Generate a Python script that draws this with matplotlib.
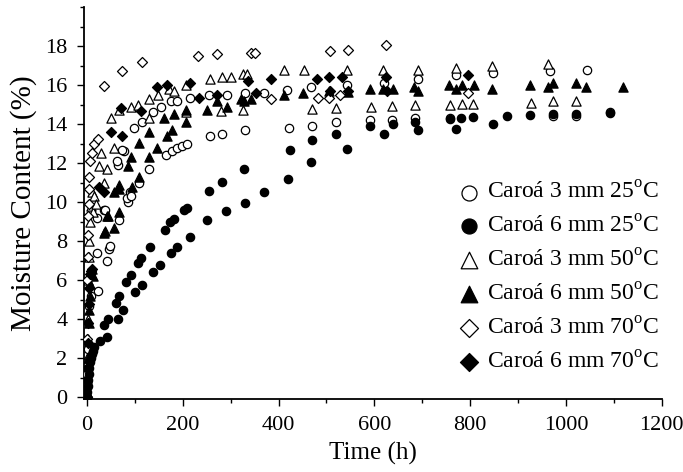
import matplotlib
matplotlib.use("Agg")
import matplotlib.pyplot as plt
from matplotlib.ticker import MultipleLocator

plt.rcParams['font.family'] = ['Liberation Serif', 'DejaVu Serif']
plt.rcParams['mathtext.fontset'] = 'custom'
plt.rcParams['mathtext.rm'] = 'Liberation Serif'

labels = ["Caroá 3 mm 25$^{\\mathrm{o}}$C", "Caroá 6 mm 25$^{\\mathrm{o}}$C",
          "Caroá 3 mm 50$^{\\mathrm{o}}$C", "Caroá 6 mm 50$^{\\mathrm{o}}$C",
          "Caroá 3 mm 70$^{\\mathrm{o}}$C", "Caroá 6 mm 70$^{\\mathrm{o}}$C"]

# Caroá 3 mm 25 C (open circles)
t_3_25 = [0, 1, 2, 3.5, 8, 24, 21, 42, 46, 49, 21, 36, 38, 67, 85, 83, 90, 92, 109, 64, 130, 62,
          78, 74, 165, 178, 189, 199, 210, 257, 283, 329, 99, 116, 137, 154, 175, 189, 215, 255,
          292, 331, 369, 418, 421, 468, 470, 519, 542, 590, 621, 637, 685, 692, 757, 771, 848,
          966, 973, 1021, 1044, 1092]
m_3_25 = [0, 1.2, 2.5, 4.7, 5.2, 5.45, 7.4, 7.0, 7.6, 7.75, 9.2, 9.6, 9.6, 9.1, 10.0, 10.2, 10.5,
          10.3, 11.0, 11.9, 11.7, 12.1, 12.6, 12.7, 12.4, 12.6, 12.8, 12.9, 13.0, 13.4, 13.5, 13.7,
          13.8, 14.1, 14.6, 14.9, 15.2, 15.2, 15.35, 15.5, 15.5, 15.6, 15.6, 15.75, 13.8, 15.9,
          13.9, 14.1, 16.0, 14.2, 16.1, 14.2, 14.3, 16.3, 14.3, 16.5, 16.6, 16.7, 14.4, 14.4,
          16.8, 14.6]

# Caroá 6 mm 25 C (filled circles)
t_6_25 = [0, 1, 2, 3, 4, 5, 6, 8, 10, 12, 15, 28, 42, 36, 44, 64, 60, 76, 67, 81, 100, 92, 114,
          106, 112, 139, 153, 132, 175, 162, 189, 174, 182, 215, 203, 210, 251, 255, 283, 290,
          328, 331, 369, 419, 423, 468, 470, 519, 542, 590, 621, 639, 685, 692, 757, 771, 780,
          806, 848, 876, 925, 973, 1021, 1092]
m_6_25 = [0, 0.3, 0.6, 0.9, 1.2, 1.5, 1.8, 2.0, 2.2, 2.4, 2.6, 2.9, 3.1, 3.7, 4.0, 4.0, 4.85, 4.5,
          5.2, 5.9, 5.4, 6.25, 5.75, 6.9, 7.15, 6.4, 6.8, 7.7, 7.4, 8.6, 7.7, 9.0, 9.15, 8.2, 9.6,
          9.7, 9.1, 10.6, 11.05, 9.55, 11.7, 9.95, 10.5, 11.2, 12.7, 12.05, 13.2, 13.5, 12.75,
          13.9, 13.5, 14.0, 14.1, 13.7, 14.25, 13.75, 14.3, 14.35, 14.0, 14.4, 14.45, 14.5, 14.5,
          14.55]

# Caroá 3 mm 50 C (open triangles)
t_3_50 = [0, 1, 2, 3, 4, 5, 6, 8, 10, 12, 15, 20, 26, 43, 36, 29, 57, 50, 67, 92, 106, 130, 149,
          171, 182, 206, 258, 283, 300, 326, 335, 130, 206, 279, 326, 411, 453, 470, 519, 542,
          592, 619, 637, 685, 692, 758, 771, 783, 805, 845, 926, 963, 973, 1021]
m_3_50 = [0, 2, 4, 6, 7.2, 8.0, 9.0, 9.8, 10.5, 9.5, 10.3, 9.9, 11.85, 11.7, 11.0, 12.5, 12.8,
          14.3, 14.75, 14.9, 15.0, 15.3, 15.5, 15.8, 15.7, 16.0, 16.3, 16.4, 16.4, 16.55, 16.55,
          14.3, 14.6, 14.7, 14.75, 16.8, 16.8, 14.8, 14.85, 16.8, 14.9, 16.8, 14.95, 15.0, 16.8,
          15.0, 16.9, 15.05, 15.05, 17.0, 15.1, 17.1, 15.2, 15.2]

# Caroá 6 mm 50 C (filled triangles)
t_6_50 = [0, 1, 2, 3, 4, 5, 6, 7, 8, 10, 12, 36, 38, 43, 45, 56, 67, 57, 66, 67, 85, 95, 109, 92,
          130, 146, 109, 130, 168, 178, 206, 161, 182, 206, 251, 272, 293, 321, 328, 342, 411,
          451, 505, 546, 590, 619, 639, 682, 692, 755, 771, 783, 807, 845, 925, 963, 973, 1021,
          1042, 1119]
m_6_50 = [0, 1.0, 2.0, 3.0, 3.8, 4.5, 5.2, 5.8, 6.3, 6.6, 6.2, 8.4, 8.5, 9.3, 9.3, 8.7, 9.5, 10.5,
          10.7, 10.9, 11.85, 10.8, 11.3, 12.3, 12.3, 12.8, 13.05, 13.6, 13.4, 13.7, 14.1, 14.3,
          14.5, 14.75, 14.75, 15.2, 14.9, 15.3, 15.2, 15.3, 15.5, 15.6, 15.7, 15.65, 15.8, 15.8,
          15.8, 15.9, 15.7, 16.0, 15.8, 16.0, 16.0, 15.8, 16.0, 15.9, 16.1, 16.1, 15.9, 15.9]

# Caroá 3 mm 70 C (open diamonds)
t_3_70 = [0, 0.5, 1, 1.5, 2, 3, 4, 5, 3.5, 7, 10, 14, 24, 36, 74, 114, 231, 271, 342, 350, 385,
          482, 505, 507, 529, 546, 624, 795]
m_3_70 = [0, 3.0, 6.0, 7.2, 8.3, 9.3, 9.9, 10.7, 11.3, 12.1, 12.5, 13.0, 13.25, 15.95, 16.7,
          17.2, 17.5, 17.6, 17.65, 17.65, 15.3, 15.35, 15.35, 17.75, 15.5, 17.8, 18.05, 15.6]

# Caroá 6 mm 70 C (filled diamonds)
t_6_70 = [0, 1, 2, 3, 4, 5, 6, 8, 10, 25, 35, 50, 74, 72, 112, 146, 168, 215, 234, 272, 336, 352,
          385, 480, 505, 507, 533, 546, 625, 626, 795]
m_6_70 = [0, 1.5, 2.8, 3.8, 4.8, 5.6, 6.3, 6.5, 6.6, 10.8, 10.5, 13.6, 13.4, 14.85, 14.65, 15.9,
          16.0, 16.1, 15.35, 15.5, 16.2, 15.6, 16.3, 16.3, 16.4, 15.7, 16.4, 15.7, 16.4, 15.7,
          16.5]

x_ticks = [0, 200, 400, 600, 800, 1000, 1200]
y_ticks = [0, 2, 4, 6, 8, 10, 12, 14, 16, 18]

fig = plt.figure(figsize=(6.83, 4.72), dpi=100)
ax = fig.add_axes([0.123, 0.154, 0.846, 0.831])

series = [
    (t_3_25, m_3_25, 'o', 'white', 36),
    (t_6_25, m_6_25, 'o', 'black', 36),
    (t_3_50, m_3_50, '^', 'white', 44),
    (t_6_50, m_6_50, '^', 'black', 44),
    (t_3_70, m_3_70, 'D', 'white', 26),
    (t_6_70, m_6_70, 'D', 'black', 26),
]
for (t, m, mk, fc, s), lab in zip(series, labels):
    ax.scatter(t, m, marker=mk, s=s, facecolors=fc, edgecolors='black', linewidths=0.9,
               label=lab, zorder=3)

ax.set_xlim(-6, 1200)
ax.set_ylim(-0.1, 20)
ax.set_xticks(x_ticks)
ax.set_yticks(y_ticks)
ax.xaxis.set_minor_locator(MultipleLocator(100))
ax.yaxis.set_minor_locator(MultipleLocator(1))
ax.tick_params(axis='both', which='major', direction='out', length=5, width=1.0,
               labelsize=16, colors='black', pad=7)
ax.tick_params(axis='both', which='minor', direction='out', length=3, width=1.0)
for sp in ['top', 'right']:
    ax.spines[sp].set_visible(False)
for sp in ['left', 'bottom']:
    ax.spines[sp].set_linewidth(1.3)

ax.set_xlabel("Time (h)", fontsize=18, labelpad=5)
ax.set_ylabel("Moisture Content (%)", fontsize=21, labelpad=6)

leg = ax.legend(loc='upper left', bbox_to_anchor=(0.645, 0.555), frameon=False, fontsize=17,
                handletextpad=0.3, labelspacing=0.5, markerscale=1.8, borderaxespad=0,
                borderpad=0, handlelength=1.0)

fig.savefig("out.png", dpi=100)
